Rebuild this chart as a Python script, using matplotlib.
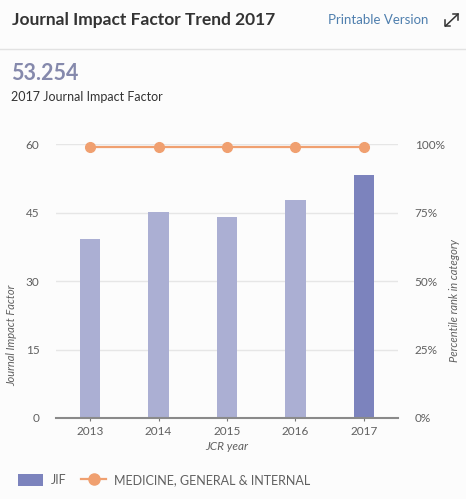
import numpy as np
import matplotlib.pyplot as plt
from matplotlib.lines import Line2D
from matplotlib.patches import Patch

plt.rcParams['font.family'] = ['Lato', 'DejaVu Sans']

years = ['2013', '2014', '2015', '2016', '2017']
jif = [39.207, 45.217, 44.002, 47.831, 53.254]
percentile = [99.0, 99.0, 99.0, 99.0, 99.0]
category = 'MEDICINE, GENERAL & INTERNAL'

bar_light = '#abafd3'
bar_dark = '#7c83bd'
orange = '#f0a070'
txt = '#606060'

fig = plt.figure(figsize=(4.66, 4.99), dpi=100)
fig.patch.set_facecolor('#fcfcfc')

# header
fig.text(12 / 466, 1 - 20 / 499, 'Journal Impact Factor Trend 2017', fontsize=12.5,
         fontweight='bold', color='#333333', va='center')
fig.text(328 / 466, 1 - 20 / 499, 'Printable Version', fontsize=9.5,
         color='#4f7fae', va='center')
fig.add_artist(plt.Line2D([0, 1], [1 - 49 / 499] * 2, color='#e2e2e2', lw=1))
fig.add_artist(plt.Line2D([0.956, 0.983], [1 - 26 / 499, 1 - 14 / 499], color='#333333', lw=1.1))
fig.add_artist(plt.Line2D([0.956, 0.956, 0.966], [1 - 20 / 499, 1 - 26 / 499, 1 - 26 / 499], color='#333333', lw=1.1))
fig.add_artist(plt.Line2D([0.973, 0.983, 0.983], [1 - 14 / 499, 1 - 14 / 499, 1 - 20 / 499], color='#333333', lw=1.1))
fig.text(11 / 466, 1 - 74 / 499, '53.254', fontsize=15.5, fontweight='bold',
         color='#8589ac', va='center')
fig.text(11 / 466, 1 - 97 / 499, '2017 Journal Impact Factor', fontsize=9,
         color='#333333', va='center')

ax = fig.add_axes([56 / 466, 81 / 499, 342 / 466, 274 / 499])
ax.set_facecolor('#fcfcfc')
x = np.arange(len(years))
colors = [bar_light] * (len(years) - 1) + [bar_dark]
ax.bar(x, jif, width=0.3, color=colors, zorder=2)
ax.set_xlim(-0.5, len(years) - 0.5)
ax.set_ylim(0, 60)
ax.set_yticks([0, 15, 30, 45, 60])
ax.grid(axis='y', color='#e6e6e6', lw=1, zorder=0)
for s in ['top', 'left', 'right']:
    ax.spines[s].set_visible(False)
ax.spines['bottom'].set_color('#8a8a8a')
ax.spines['bottom'].set_linewidth(1.5)
ax.set_xticks(x)
ax.set_xticklabels(years)
ax.tick_params(axis='x', colors='#777777', labelcolor=txt, labelsize=8.5, length=4, direction='inout')
ax.tick_params(axis='y', length=0, labelcolor=txt, labelsize=8.5, pad=12)
ax.set_xlabel('JCR year', style='italic', color=txt, fontsize=8.5, labelpad=3)
ax.set_ylabel('Journal Impact Factor', style='italic', color=txt, fontsize=8)
ax.yaxis.set_label_coords(-0.112, 0.30)

ax2 = ax.twinx()
ax2.plot(x, percentile, color=orange, lw=1.6, marker='o', ms=7, clip_on=False, zorder=3)
ax2.set_ylim(0, 100)
ax2.set_yticks([0, 25, 50, 75, 100])
ax2.set_yticklabels(['0%', '25%', '50%', '75%', '100%'])
ax2.tick_params(axis='y', length=0, labelcolor=txt, labelsize=8.5, pad=12)
for s in ['top', 'left', 'right', 'bottom']:
    ax2.spines[s].set_visible(False)
ax2.set_ylabel('Percentile rank in category', style='italic', color=txt, fontsize=8)
ax2.yaxis.set_label_coords(1.148, 0.43)

handles = [Patch(facecolor=bar_dark, edgecolor='none'),
           Line2D([0], [0], color=orange, lw=1.6, marker='o', ms=8)]
fig.legend(handles, ['JIF', category], loc='center left', bbox_to_anchor=(0.015, 1 - 480 / 499),
           ncol=2, frameon=False, fontsize=9, labelcolor=txt, handlelength=2.0,
           handleheight=1.1, columnspacing=1.2, handletextpad=0.6)

fig.savefig('out.png', dpi=100, facecolor=fig.get_facecolor())
